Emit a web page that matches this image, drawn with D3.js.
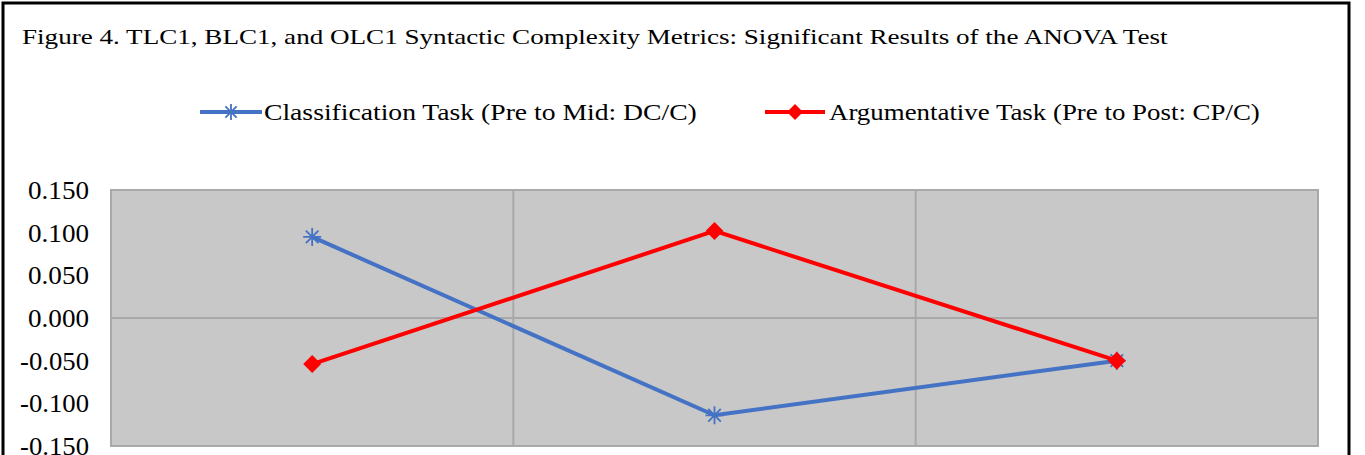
<!DOCTYPE html>
<html>
<head>
<meta charset="utf-8">
<script src="https://cdn.jsdelivr.net/npm/d3@7"></script>
<style>
  body { margin: 0; background: #fff; }
  text { font-family: "Liberation Serif", "Times New Roman", serif; fill: #000; }
</style>
</head>
<body>
<svg class="chart" width="1365" height="455"></svg>
<script>
// data
var categories = ["A", "B", "C"];
var seriesNames = ["Classification Task (Pre to Mid: DC/C)", "Argumentative Task (Pre to Post: CP/C)"];
var classification = [0.095, -0.114, -0.050];
var argumentative = [-0.054, 0.102, -0.050];
var yTicks = [0.150, 0.100, 0.050, 0.000, -0.050, -0.100, -0.150];

var svg = d3.select(".chart");

// stretch a left-anchored text horizontally so it spans w pixels
function fitWidth(t, x0, y0, w) {
    var nat = t.node().getComputedTextLength();
    var s = w / nat;
    t.attr("x", 0).attr("y", 0)
        .attr("transform", "translate(" + x0 + "," + y0 + ") scale(" + s + ",1)");
}

// outer frame
svg.append("rect")
    .attr("x", 3).attr("y", 3)
    .attr("width", 1346).attr("height", 470)
    .attr("fill", "none").attr("stroke", "#000").attr("stroke-width", 3);

var title = svg.append("text")
    .style("font-size", "22px")
    .text("Figure 4. TLC1, BLC1, and OLC1 Syntactic Complexity Metrics: Significant Results of the ANOVA Test");
fitWidth(title, 22, 44, 1146);

var pLeft = 111, pRight = 1318, pTop = 190, pBottom = 446;

var x = d3.scaleBand().domain(categories).range([pLeft, pRight]);
var y = d3.scaleLinear().domain([-0.15, 0.15]).range([pBottom, pTop]);

// plot area
svg.append("rect")
    .attr("x", pLeft).attr("y", pTop)
    .attr("width", pRight - pLeft).attr("height", pBottom - pTop)
    .attr("fill", "#c8c8c8").attr("stroke", "#a9a9a9").attr("stroke-width", 2);

// vertical gridlines between categories
svg.selectAll(".vgrid")
    .data(categories.slice(1))
    .enter().append("line")
    .attr("x1", function(d) { return x(d); })
    .attr("x2", function(d) { return x(d); })
    .attr("y1", pTop).attr("y2", pBottom)
    .attr("stroke", "#a9a9a9").attr("stroke-width", 2);

// zero line
svg.append("line")
    .attr("x1", pLeft).attr("x2", pRight)
    .attr("y1", y(0)).attr("y2", y(0))
    .attr("stroke", "#a9a9a9").attr("stroke-width", 2);

// y axis labels
var yAxis = d3.axisLeft(y).tickValues(yTicks).tickSize(0).tickPadding(21);
var ga = svg.append("g").attr("transform", "translate(" + pLeft + ",0)").call(yAxis);
ga.select(".domain").remove();
ga.selectAll(".tick text")
    .style("font-family", "Liberation Serif, serif")
    .style("font-size", "25px")
    .attr("fill", "#000")
    .attr("x", 0).attr("dy", "0.34em")
    .attr("text-anchor", "end")
    .text(function(d) { return d3.format(".3f")(d).replace("−", "-"); })
    .each(function(d) {
        var nat = this.getComputedTextLength();
        var w = d < 0 ? 69 : 61;
        d3.select(this).attr("transform", "translate(-22,0) scale(" + (w / nat) + ",1)");
    });

var line = d3.line()
    .x(function(d, i) { return x(categories[i]) + x.bandwidth() / 2; })
    .y(function(d) { return y(d); });

var blue = "#4472c4", red = "#ff0000";

function starMarker(g, cx, cy, r) {
    g.append("path")
        .attr("d", "M" + (cx - r) + "," + cy + "L" + (cx + r) + "," + cy +
            "M" + (cx - r * 0.7) + "," + (cy - r * 0.7) + "L" + (cx + r * 0.7) + "," + (cy + r * 0.7) +
            "M" + (cx - r * 0.7) + "," + (cy + r * 0.7) + "L" + (cx + r * 0.7) + "," + (cy - r * 0.7) +
            "M" + cx + "," + (cy - r) + "L" + cx + "," + (cy + r))
        .attr("stroke", blue).attr("stroke-width", 1.8).attr("fill", "none");
}

function diamond(g, cx, cy, r) {
    g.append("path")
        .attr("d", "M" + cx + "," + (cy - r) + "L" + (cx + r) + "," + cy + "L" + cx + "," + (cy + r) + "L" + (cx - r) + "," + cy + "Z")
        .attr("fill", red);
}

var plot = svg.append("g");
plot.append("path").datum(classification)
    .attr("d", line).attr("fill", "none").attr("stroke", blue).attr("stroke-width", 4);
classification.forEach(function(v, i) {
    starMarker(plot, x(categories[i]) + x.bandwidth() / 2, y(v), 9);
});
plot.append("path").datum(argumentative)
    .attr("d", line).attr("fill", "none").attr("stroke", red).attr("stroke-width", 4);
argumentative.forEach(function(v, i) {
    diamond(plot, x(categories[i]) + x.bandwidth() / 2, y(v), 9);
});

// legend
var legY = 112;
var lg1 = svg.append("g");
lg1.append("line").attr("x1", 200).attr("x2", 262).attr("y1", legY).attr("y2", legY)
    .attr("stroke", blue).attr("stroke-width", 4);
starMarker(lg1, 231, legY, 8);
var lt1 = lg1.append("text").style("font-size", "24px").text(seriesNames[0]);
fitWidth(lt1, 264, 120, 433);

var lg2 = svg.append("g");
lg2.append("line").attr("x1", 765).attr("x2", 825).attr("y1", legY).attr("y2", legY)
    .attr("stroke", red).attr("stroke-width", 4);
diamond(lg2, 795, legY, 8);
var lt2 = lg2.append("text").style("font-size", "24px").text(seriesNames[1]);
fitWidth(lt2, 829, 120, 431);
</script>
</body>
</html>
